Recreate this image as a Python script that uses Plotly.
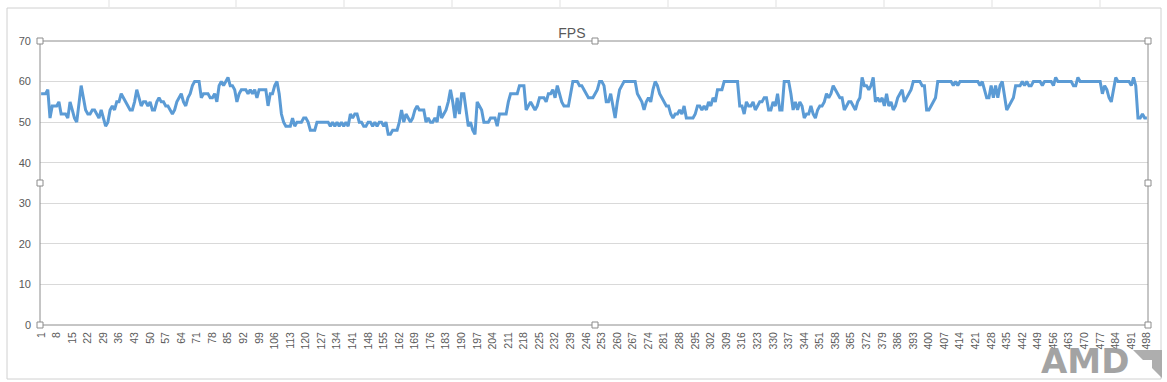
import plotly.graph_objects as go

frame_idx = list(range(1, 499))
fps = [
    57, 57, 57, 58, 51, 54, 54, 54, 55, 52,
    52, 52, 51, 55, 53, 51, 50, 55, 59, 56,
    53, 52, 52, 53, 53, 52, 51, 53, 51, 49,
    50, 53, 54, 53, 55, 55, 57, 56, 55, 54,
    53, 53, 55, 58, 56, 54, 55, 55, 54, 55,
    53, 53, 55, 56, 55, 55, 54, 54, 53, 52,
    53, 55, 56, 57, 55, 54, 56, 57, 59, 60,
    60, 60, 56, 57, 57, 57, 56, 56, 57, 55,
    59, 60, 59, 60, 61, 59, 59, 58, 55, 57,
    58, 58, 58, 57, 58, 57, 58, 56, 58, 58,
    58, 58, 54, 57, 57, 59, 60, 57, 52, 50,
    49, 49, 49, 51, 49, 50, 50, 50, 51, 51,
    50, 48, 48, 48, 50, 50, 50, 50, 50, 50,
    49, 50, 49, 50, 49, 50, 49, 50, 49, 52,
    51, 52, 52, 50, 50, 49, 49, 50, 50, 49,
    50, 49, 50, 50, 49, 50, 47, 47, 48, 48,
    48, 50, 53, 50, 52, 51, 50, 51, 53, 54,
    53, 53, 53, 50, 51, 50, 50, 51, 50, 54,
    51, 52, 53, 55, 58, 55, 51, 56, 52, 57,
    57, 53, 49, 50, 48, 47, 55, 54, 53, 50,
    50, 50, 51, 51, 51, 49, 52, 52, 52, 52,
    55, 57, 57, 57, 57, 59, 59, 59, 53, 54,
    55, 54, 53, 54, 56, 56, 56, 55, 57, 57,
    58, 56, 59, 57, 55, 54, 54, 54, 57, 60,
    60, 60, 59, 59, 58, 57, 56, 56, 56, 57,
    58, 60, 60, 59, 55, 55, 57, 54, 51, 55,
    58, 59, 60, 60, 60, 60, 60, 60, 57, 56,
    55, 53, 55, 56, 55, 58, 60, 59, 57, 56,
    55, 54, 54, 52, 51, 52, 52, 53, 52, 54,
    51, 51, 51, 51, 52, 54, 54, 53, 54, 53,
    55, 54, 56, 55, 58, 58, 58, 60, 60, 60,
    60, 60, 60, 60, 54, 54, 52, 55, 54, 54,
    55, 53, 54, 55, 55, 56, 56, 53, 53, 55,
    54, 57, 53, 53, 60, 60, 60, 57, 53, 55,
    53, 55, 54, 51, 52, 52, 54, 52, 51, 53,
    54, 54, 55, 57, 56, 57, 59, 58, 57, 56,
    56, 53, 54, 55, 55, 54, 53, 55, 56, 61,
    59, 59, 58, 59, 61, 55, 56, 55, 56, 54,
    57, 54, 55, 53, 54, 56, 57, 58, 55, 56,
    57, 58, 60, 60, 60, 60, 59, 59, 53, 53,
    54, 55, 56, 60, 60, 60, 60, 60, 60, 60,
    59, 60, 59, 60, 60, 60, 60, 60, 60, 60,
    60, 60, 59, 60, 58, 56, 56, 59, 56, 59,
    56, 59, 60, 57, 53, 54, 55, 56, 59, 59,
    59, 60, 59, 60, 59, 59, 60, 60, 60, 60,
    59, 60, 60, 60, 60, 59, 61, 60, 60, 60,
    60, 60, 60, 60, 59, 59, 61, 60, 60, 60,
    60, 60, 60, 60, 60, 60, 60, 57, 59, 58,
    56, 55, 58, 61, 60, 60, 60, 60, 60, 60,
    59, 61, 59, 51, 51, 52, 51, 51,
]
x_tick_labels = [str(v) for v in range(1, 499, 7)]
y_ticks = [0, 10, 20, 30, 40, 50, 60, 70]

W, H = 1167, 382
L, R, T, B = 40, 19, 41, 57
pw, ph = W - L - R, H - T - B


def px(x):
    return (x - L) / pw


def py(y):
    return (H - B - y) / ph


fig = go.Figure()
fig.add_trace(go.Scatter(
    x=frame_idx, y=fps, mode="lines",
    line=dict(color="#5B9BD5", width=3),
    hoverinfo="skip", showlegend=False,
))

shapes = []
# Excel sheet background gridlines (faint)
for gx in [109, 236, 344, 452, 560, 668, 776, 884, 992, 1100]:
    shapes.append(dict(type="line", xref="paper", yref="paper",
                       x0=px(gx), x1=px(gx), y0=py(0), y1=py(7),
                       line=dict(color="#E1E1E1", width=1), layer="below"))
# chart area border
shapes.append(dict(type="rect", xref="paper", yref="paper",
                   x0=px(7), x1=px(1161), y0=py(379), y1=py(8),
                   line=dict(color="#D0D0D0", width=1), layer="below"))
# plot area border (selected)
shapes.append(dict(type="rect", xref="paper", yref="paper",
                   x0=0, x1=1, y0=0, y1=1,
                   line=dict(color="#8C8C8C", width=1)))
# selection handles
for hx, hy in [(40, 41), (595, 41), (1148, 41), (40, 183), (1148, 183),
               (40, 325), (595, 325), (1148, 325)]:
    shapes.append(dict(type="rect", xref="paper", yref="paper",
                       x0=px(hx - 3), x1=px(hx + 3), y0=py(hy + 3), y1=py(hy - 3),
                       fillcolor="white", line=dict(color="#8C8C8C", width=1)))
# AMD arrow logo
shapes.append(dict(type="path", xref="paper", yref="paper",
                   path=("M {a},{b} L {c},{b} L {c},{d} L {e},{f} L {e},{g} L {h},{g} Z").format(
                       a=px(1133), b=py(350), c=px(1162), d=py(378), e=px(1152), f=py(368),
                       g=py(360), h=px(1143)),
                   fillcolor="#A0A0A0", line=dict(width=0), opacity=0.85))

fig.update_layout(
    width=W, height=H,
    margin=dict(l=L, r=R, t=T, b=B),
    paper_bgcolor="white", plot_bgcolor="white",
    font=dict(family="Liberation Sans, Arial, sans-serif", color="#595959", size=11),
    title=dict(text="FPS", x=px(583), xanchor="center", y=1 - 33 / H, yanchor="middle",
               font=dict(size=14, color="#595959", family="Liberation Sans, Arial, sans-serif")),
    xaxis=dict(
        range=[0.5, 498.5],
        tickmode="array", tickvals=list(range(1, 499, 7)), ticktext=x_tick_labels,
        tickangle=-90, tickfont=dict(size=10.5, color="#595959"),
        showgrid=False, zeroline=False, showline=False,
        ticks="", ticklen=0, ticklabelstandoff=4,
    ),
    yaxis=dict(
        range=[0, 70], tickmode="array", tickvals=y_ticks,
        tickfont=dict(size=11, color="#595959"),
        showgrid=True, gridcolor="#D9D9D9", gridwidth=1,
        zeroline=False, showline=False, ticks="", ticklen=0, ticklabelstandoff=8,
    ),
    shapes=shapes,
    annotations=[dict(
        text="<b>AMD</b>", xref="paper", yref="paper", x=px(1131), y=py(361),
        xanchor="right", yanchor="middle", showarrow=False,
        font=dict(size=34, color="#9A9A9A", family="DejaVu Sans, Arial, sans-serif"),
        opacity=0.9,
    )],
)

fig.write_html(
    "out.html",
    config={"displayModeBar": False},
    post_script="document.body.style.margin='0';document.body.style.overflow='hidden';",
)
